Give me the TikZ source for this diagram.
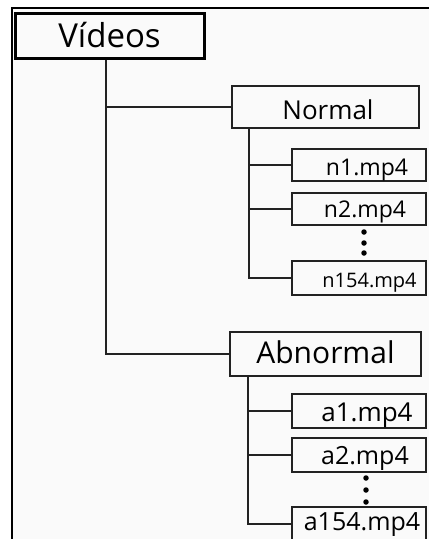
\documentclass[tikz,border=0pt]{standalone}
\usepackage{fontspec}
\setmainfont{Open Sans}
\definecolor{paper}{HTML}{FAFAFA}
\definecolor{ink}{HTML}{222222}
\tikzset{
  every node/.style={font=\fontsize{24}{28}\selectfont, text=black},
  box/.style={draw=ink, line width=2pt, fill=paper, inner sep=0pt,
              text depth=0pt, minimum width=134pt},
  rootbox/.style={box, draw=black, line width=3pt},
  wire/.style={draw=ink, line width=2pt},
  dot/.style={fill=black, circle, inner sep=0pt, minimum size=5.5pt}
}
\begin{document}
\begin{tikzpicture}[x=1pt, y=-1pt]
  \useasboundingbox (0,0) rectangle (429,539);
  \clip (0,0) rectangle (429,539);
  \fill[white] (0,0) rectangle (429,539);
  % outer frame, continuing beyond the right and bottom edges
  \fill[paper] (12,8) rectangle (450,560);
  \draw[black, line width=2.6pt] (12,560) -- (12,8) -- (450,8);

  % root folder
  \node[rootbox, minimum width=189pt, minimum height=45pt, text height=23pt,
        font=\fontsize{33}{36}\selectfont] (videos) at (109.5,35.5) {Vídeos};

  % sub folders
  \node[box, minimum width=187pt, minimum height=42pt, text height=24pt,
        font=\fontsize{26}{30}\selectfont] (normal) at (325.5,107) {\hspace*{5pt}Normal};
  \node[box, minimum width=191pt, minimum height=44pt, text height=18pt,
        font=\fontsize{30}{34}\selectfont] (abnormal) at (325.5,354) {Abnormal};

  % files of the normal folder
  \node[box, minimum height=32pt, text height=20pt,
        font=\fontsize{23}{26}\selectfont] (n1) at (359,165) {\hspace*{16pt}n1.mp4};
  \node[box, minimum height=32pt, text height=16pt,
        font=\fontsize{23}{26}\selectfont] (n2) at (359,209) {\hspace*{12pt}n2.mp4};
  \node[box, minimum height=34pt, text height=18pt,
        font=\fontsize{20}{24}\selectfont] (n154) at (359,278) {\hspace*{21pt}n154.mp4};

  % files of the abnormal folder
  \node[box, minimum height=34pt, text height=20pt,
        font=\fontsize{26}{30}\selectfont] (a1) at (359,411) {\hspace*{16pt}a1.mp4};
  \node[box, minimum height=34pt, text height=18pt,
        font=\fontsize{25}{29}\selectfont] (a2) at (359,455) {\hspace*{12pt}a2.mp4};
  \node[box, minimum height=34pt, text height=12pt,
        font=\fontsize{25}{29}\selectfont] (a154) at (359,524) {\hspace*{6pt}a154.mp4};

  % tree connectors
  \draw[wire] ([xshift=-3.5pt]videos.south) |- (normal.west);
  \draw[wire] ([xshift=-3.5pt]videos.south) |- (abnormal.west);
  \foreach \f in {n1,n2,n154}
    \draw[wire] ([xshift=18pt]normal.south west) |- (\f.west);
  \foreach \f in {a1,a2,a154}
    \draw[wire] ([xshift=19pt]abnormal.south west) |- (\f.west);

  % elided files
  \node[dot] (nd1) at (364,232) {};
  \node[dot] (nd2) at (364,243) {};
  \node[dot] (nd3) at (364,253) {};
  \node[dot] (ad1) at (366,478) {};
  \node[dot] (ad2) at (366,490) {};
  \node[dot] (ad3) at (366,502) {};
\end{tikzpicture}
\end{document}
